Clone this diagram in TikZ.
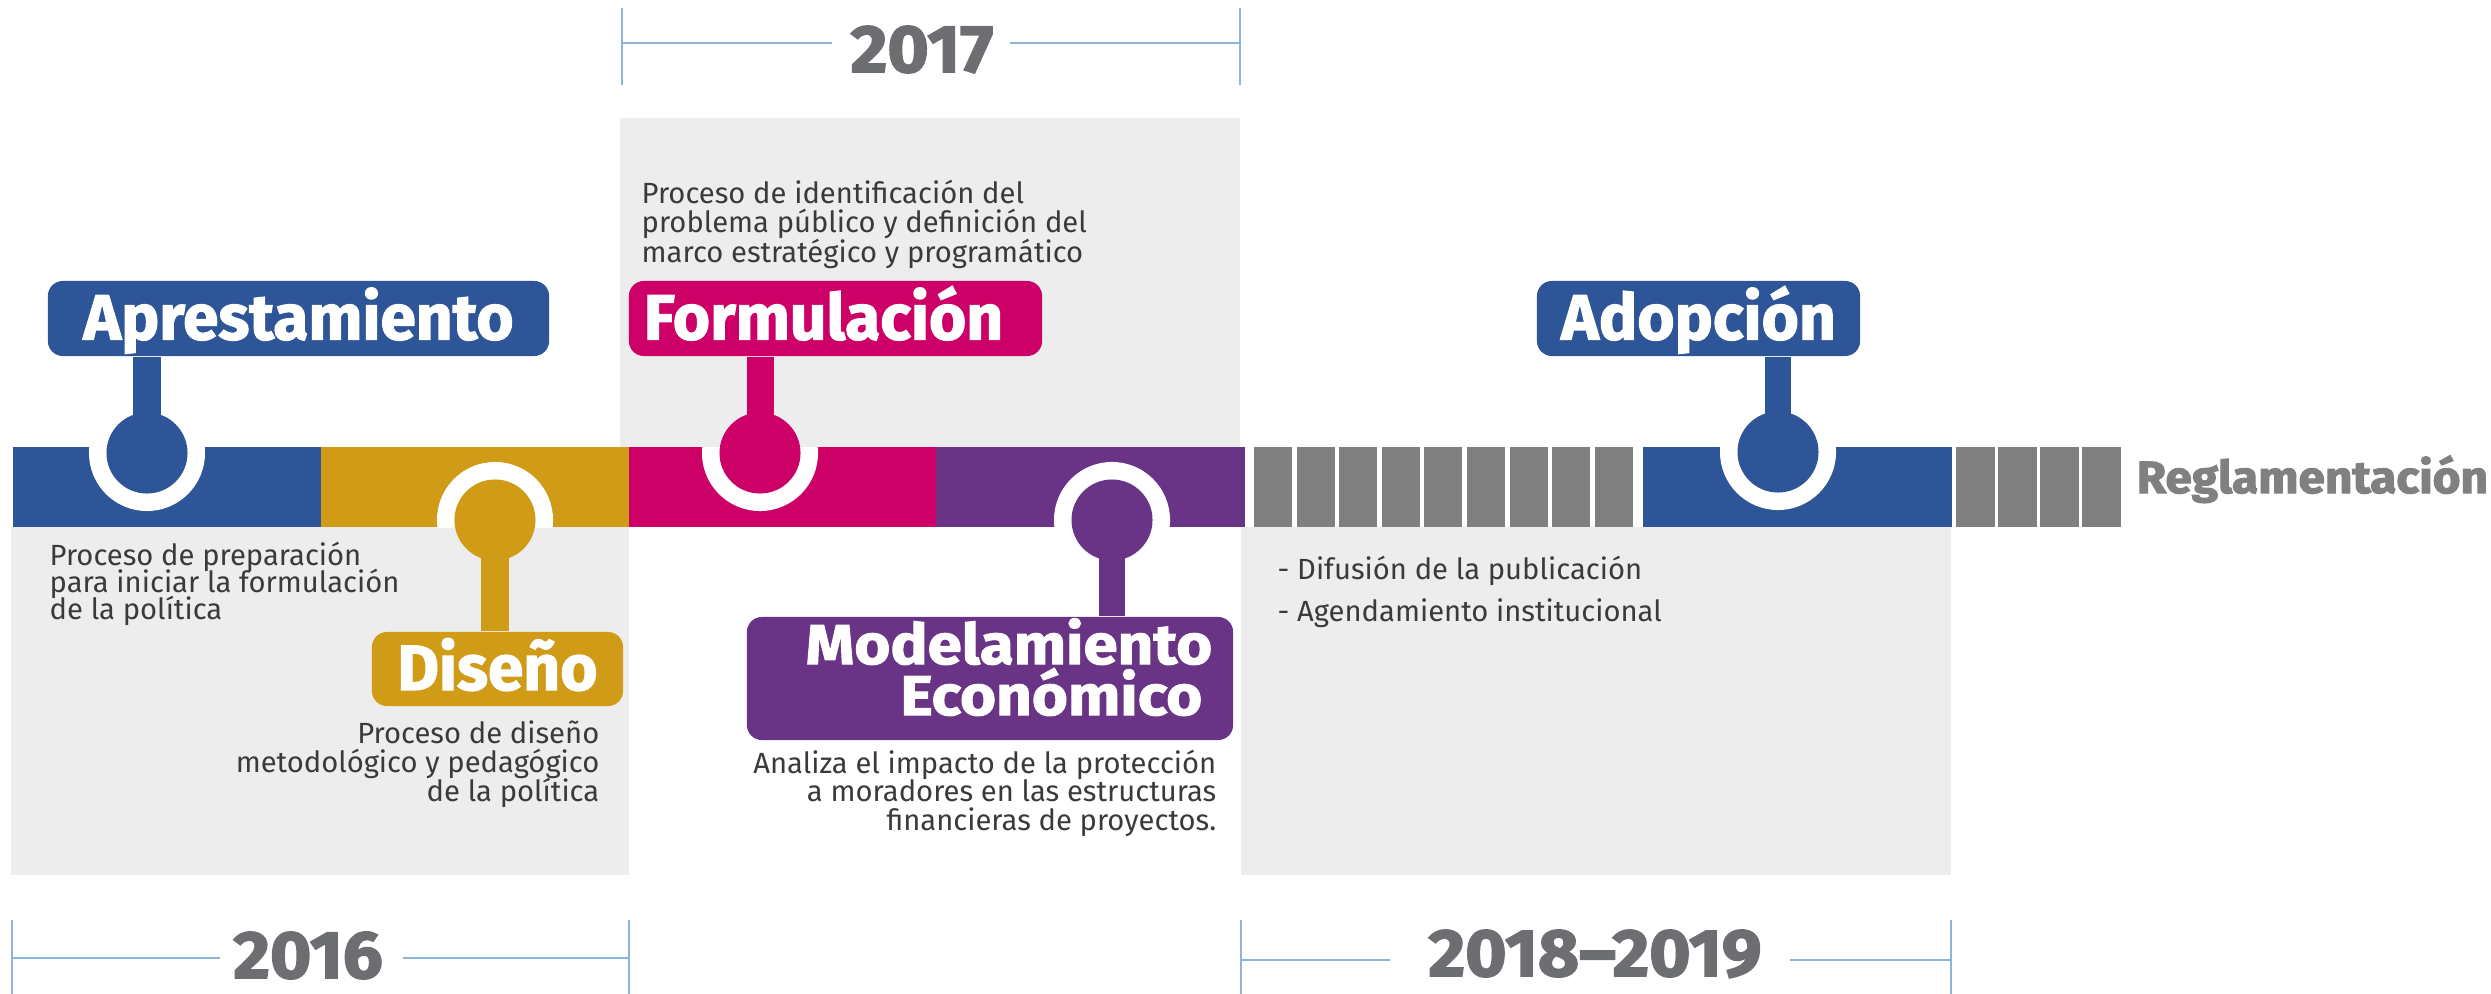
\documentclass[tikz,border=0pt]{standalone}
\usepackage{fontspec}
\setmainfont{Fira Sans}
\newfontfamily\descfont{Fira Sans}
\newfontfamily\titlefont{Fira Sans}[BoldFeatures={FakeBold=1.8}]
\newfontfamily\yearfont{Fira Sans}[FakeStretch=1.06, BoldFeatures={FakeBold=2.5}]
\newfontfamily\modfont{Fira Sans}[FakeStretch=1.1, BoldFeatures={FakeBold=1.8}]
\newcommand{\descsize}[1]{\descfont\fontsize{8.3}{#1}\selectfont\lineskiplimit=-20pt\relax}
\definecolor{cblue}{HTML}{2D5597}
\definecolor{cgold}{HTML}{D09C18}
\definecolor{cmag}{HTML}{CC0066}
\definecolor{cpur}{HTML}{6A3486}
\definecolor{cblk}{HTML}{808080}
\definecolor{cbg}{HTML}{EDEDED}
\definecolor{cline}{HTML}{8DB4DB}
\definecolor{cyear}{HTML}{6D6E71}
\definecolor{ctext}{HTML}{3A3A3A}
\begin{document}
\begin{tikzpicture}[x=0.01cm,y=-0.01cm,
  titlebox/.style={rounded corners=0.15cm, text=white, font=\titlefont\bfseries\fontsize{18.2}{20}\selectfont, inner sep=0pt, text height=0.42cm, text depth=0cm, minimum height=0.75cm},
  modtxt/.style={text=white, font=\modfont\bfseries\fontsize{16}{20}\selectfont, inner sep=0pt},
  pin/.style={circle, inner sep=0pt, minimum size=0.81cm},
  desc/.style={text=ctext, inner sep=0pt},
  yearlbl/.style={font=\yearfont\bfseries\fontsize{19}{21}\selectfont, text=cyear, inner sep=0pt},
  bracket/.style={draw=cline, line width=0.02cm},
]
\useasboundingbox (0,0) rectangle (2491,994);
% background panels
\fill[cbg] (620,118) rectangle (1240,447);
\fill[cbg] (11,527) rectangle (629,875);
\fill[cbg] (1241,527) rectangle (1951,875);
% timeline bar
\fill[cblue] (13,447) rectangle (321,527);
\fill[cgold] (321,447) rectangle (629,527);
\fill[cmag] (629,447) rectangle (936,527);
\fill[cpur] (936,447) rectangle (1245,527);
\foreach \i in {0,...,8} {\fill[cblk] ({1254+42.6*\i},447) rectangle ({1292+42.6*\i},527);}
\fill[cblue] (1643,447) rectangle (1952,527);
\foreach \i in {0,...,3} {\fill[cblk] ({1956+42*\i},447) rectangle ({1995+42*\i},527);}
% white rings inside the bar
\begin{scope}
  \clip (0,447) rectangle (2491,527);
  \foreach \p in {(147,453),(760,453),(1778,452),(495,520),(1112,520)} {\fill[white] \p circle[radius=0.58cm];}
\end{scope}
% label boxes
\node[titlebox, fill=cblue, minimum width=5.01cm] (abox) at (298.5,318.5) {Aprestamiento};
\node[titlebox, fill=cmag, minimum width=4.13cm] (fbox) at (835.5,318.5) {Formulación\hspace*{0.24cm}};
\node[titlebox, fill=cblue, minimum width=3.23cm] (adbox) at (1698.5,318.5) {Adopción};
\node[titlebox, fill=cgold, minimum width=2.51cm, minimum height=0.74cm] (dbox) at (497.5,669) {Diseño};
\node[titlebox, fill=cpur, minimum width=4.86cm, minimum height=1.23cm] (mbox) at (990,678.5) {};
\node[modtxt, anchor=base east] (mline1) at (1213,664) {Modelamiento};
\node[modtxt, anchor=base east] (mline2) at (1203,715) {Económico};
% pins
\node[pin, fill=cblue] (apin) at (147,453) {};
\node[pin, fill=cmag] (fpin) at (760,453) {};
\node[pin, fill=cblue] (adpin) at (1778,452) {};
\node[pin, fill=cgold] (dpin) at (495,520) {};
\node[pin, fill=cpur] (mpin) at (1112,520) {};
% stems
\draw[cblue, line width=0.27cm] (apin.center) -- (apin.center |- abox.south);
\draw[cmag, line width=0.27cm] (fpin.center) -- (fpin.center |- fbox.south);
\draw[cblue, line width=0.26cm] (adpin.center) -- (adpin.center |- adbox.south);
\draw[cgold, line width=0.28cm] (dpin.center) -- (dpin.center |- dbox.north);
\draw[cpur, line width=0.26cm] (mpin.center) -- (mpin.center |- mbox.north);
% descriptions
\node[desc, anchor=north west, align=left, font=\descsize{8.4}] (fdesc) at (641,179) {Proceso de identificación del\\problema público y definición del\\marco estratégico y programático};
\node[desc, anchor=north west, align=left, font=\descsize{7.7}] (pdesc) at (49,541) {Proceso de preparación\\para iniciar la formulación\\de la política};
\node[desc, anchor=north east, align=right, font=\descsize{8.2}] (ddesc) at (600,720) {Proceso de diseño\\metodológico y pedagógico\\de la política};
\node[desc, anchor=north east, align=right, font=\descsize{8.1}] (mdesc) at (1217,749) {Analiza el impacto de la protección\\a moradores en las estructuras\\financieras de proyectos.};
\node[desc, anchor=north west, align=left, font=\descsize{12.2}] (addesc) at (1277,555) {- Difusión de la publicación\\- Agendamiento institucional};
\node[font=\yearfont\bfseries\fontsize{12.8}{15}\selectfont, text=cblk, inner sep=0pt, anchor=base west] (regl) at (2136,493) {Reglamentación};
% year brackets
\node[yearlbl, anchor=base] (y17) at (922,72) {2017};
\coordinate (t17l) at (622,43);
\coordinate (t17r) at (1240,43);
\draw[bracket] (622,8) -- (622,85);
\draw[bracket] (1240,8) -- (1240,85);
\draw[bracket] (t17l) -- ([xshift=-0.18cm]t17l -| y17.west);
\draw[bracket] (t17r) -- ([xshift=0.16cm]t17r -| y17.east);
\node[yearlbl, anchor=base] (y16) at (308,978) {2016};
\coordinate (t16l) at (12,958);
\coordinate (t16r) at (629,958);
\draw[bracket] (12,920) -- (12,994);
\draw[bracket] (629,920) -- (629,994);
\draw[bracket] (t16l) -- ([xshift=-0.13cm]t16l -| y16.west);
\draw[bracket] (t16r) -- ([xshift=0.2cm]t16r -| y16.east);
\node[yearlbl, anchor=base] (y18) at (1595,976) {2018–2019};
\coordinate (t18l) at (1241,960);
\coordinate (t18r) at (1951,960);
\draw[bracket] (1241,920) -- (1241,994);
\draw[bracket] (1951,920) -- (1951,994);
\draw[bracket] (t18l) -- ([xshift=-0.38cm]t18l -| y18.west);
\draw[bracket] (t18r) -- ([xshift=0.28cm]t18r -| y18.east);
\end{tikzpicture}
\end{document}
